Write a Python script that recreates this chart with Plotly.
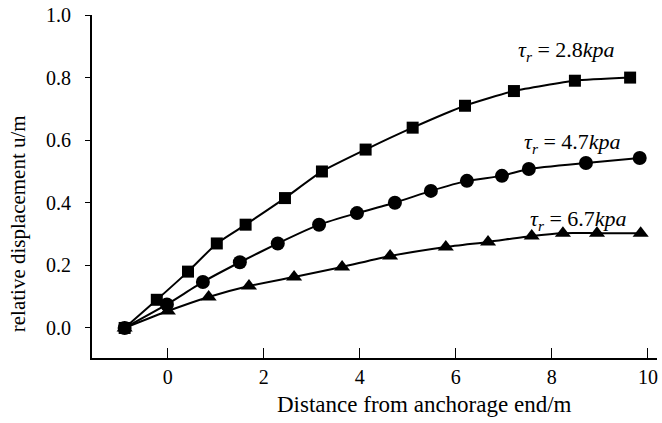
import plotly.graph_objects as go

# Data
x_sq = [-0.90, -0.23, 0.42, 1.02, 1.62, 2.44, 3.21, 4.12, 5.10, 6.19, 7.21, 8.48, 9.63]
y_sq = [0.00, 0.09, 0.18, 0.27, 0.33, 0.415, 0.50, 0.57, 0.64, 0.71, 0.757, 0.79, 0.80]

x_ci = [-0.90, -0.02, 0.73, 1.50, 2.29, 3.15, 3.94, 4.73, 5.48, 6.23, 6.96, 7.52, 8.71, 9.83]
y_ci = [0.00, 0.075, 0.147, 0.21, 0.27, 0.33, 0.367, 0.40, 0.438, 0.47, 0.486, 0.508, 0.527, 0.543]

x_tr = [-0.90, 0.00, 0.85, 1.69, 2.63, 3.63, 4.63, 5.79, 6.67, 7.58, 8.23, 8.94, 9.85]
y_tr = [0.00, 0.054, 0.099, 0.134, 0.163, 0.195, 0.23, 0.259, 0.275, 0.294, 0.303, 0.303, 0.303]

labels = ["2.8", "4.7", "6.7"]
label_x = [8.30, 8.42, 8.55]
label_y = [0.885, 0.59, 0.345]

x_ticks = [0, 2, 4, 6, 8, 10]
y_ticks = [0.0, 0.2, 0.4, 0.6, 0.8, 1.0]

x_title = "Distance from anchorage end/m"
y_title = "relative displacement u/m"

FONT = "Liberation Serif"

fig = go.Figure()
series = [(x_sq, y_sq, "square", 12), (x_ci, y_ci, "circle", 14), (x_tr, y_tr, "triangle-up", 14)]
for xs, ys, sym, sz in series:
    fig.add_trace(go.Scatter(
        x=xs, y=ys, mode="lines+markers",
        line=dict(color="black", width=2, shape="spline", smoothing=0.5),
        marker=dict(symbol=sym, size=sz, color="black"),
        showlegend=False,
    ))

for lab, lx, ly in zip(labels, label_x, label_y):
    fig.add_annotation(
        x=lx, y=ly, xref="x", yref="y", showarrow=False,
        text=f"<i>τ</i><sub><i>r</i></sub> = {lab}<i>kpa</i>",
        font=dict(family=FONT, size=22, color="black"),
    )

# axis titles placed as annotations to match reference positions
fig.add_annotation(
    x=0.588, y=0, xref="paper", yref="paper", yshift=-46, showarrow=False,
    xanchor="center", yanchor="middle",
    text=x_title, font=dict(family=FONT, size=23, color="black"),
)
fig.add_annotation(
    x=0, y=0.39, xref="paper", yref="paper", xshift=-74, showarrow=False,
    xanchor="center", yanchor="middle", textangle=-90,
    text=y_title, font=dict(family=FONT, size=21, color="black"),
)

fig.update_layout(
    width=662, height=423,
    margin=dict(l=92, r=5, t=15, b=65),
    paper_bgcolor="white", plot_bgcolor="white",
    font=dict(family=FONT, size=20, color="black"),
    xaxis=dict(
        range=[-1.58, 10.19], tickvals=x_ticks, ticktext=[str(v) for v in x_ticks],
        showgrid=False, zeroline=False, showline=True, linecolor="black", linewidth=2,
        ticks="inside", ticklen=10, tickwidth=1, tickcolor="black",
        tickfont=dict(family=FONT, size=20),
    ),
    yaxis=dict(
        range=[-0.096, 1.0], tickvals=y_ticks, ticktext=[f"{v:.1f}" for v in y_ticks],
        showgrid=False, zeroline=False, showline=True, linecolor="black", linewidth=2,
        ticks="outside", ticklen=5, tickwidth=1, tickcolor="black",
        ticklabelstandoff=10,
        tickfont=dict(family=FONT, size=20),
    ),
)

fig.write_html("out.html")
